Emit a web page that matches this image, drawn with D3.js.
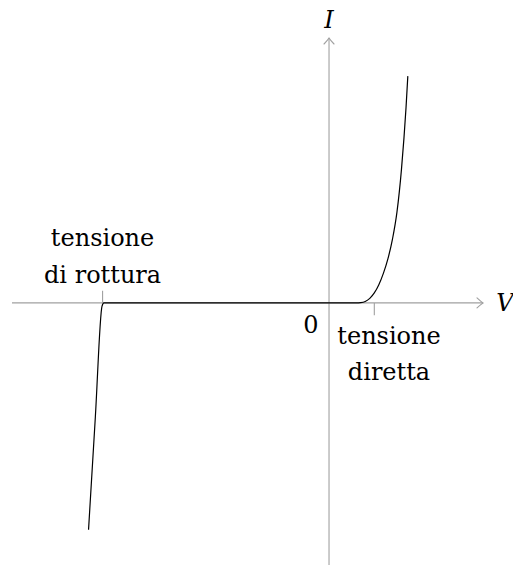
<!DOCTYPE html>
<html>
<head>
<meta charset="utf-8">
<script src="https://cdn.jsdelivr.net/npm/d3@7"></script>
<style>
  html, body { margin: 0; padding: 0; background: #fff; }
  svg { display: block; }
</style>
</head>
<body>
<svg id="chart" width="513" height="565"></svg>
<script>
// ---- data (units: V and I in arbitrary units) ----
const curveV = [-5.31, -5.16, -5.012, -4.97, -3, -1, 0, 0.6, 0.7, 0.8, 0.9, 1.0, 1.1, 1.2, 1.3, 1.4, 1.5, 1.6, 1.7, 1.74];
const curveI = [-5.0, -2.52, -0.07, 0, 0, 0, 0, 0, 0.005, 0.03, 0.1, 0.22, 0.4, 0.65, 0.97, 1.4, 2.0, 2.95, 4.3, 5.0];
const axisX = [-7, 3.4];
const axisY = [-5.8, 5.84];
const tickV = [-5, 1];
const axisLabels = ["V", "I"];
const originLabel = "0";
const breakdownLabel = ["tensione", "di rottura"];
const forwardLabel = ["tensione", "diretta"];

// ---- scales ----
const x = d3.scaleLinear().domain([-7, 3.4]).range([12, 483]);
const y = d3.scaleLinear().domain([-5.8, 5.84]).range([566, 38]);

const svg = d3.select("#chart");
const axisColor = "#a0a0a0";
const FONT = "'DejaVu Serif', 'Liberation Serif', serif";

// axes lines
svg.append("line")
  .attr("x1", x(axisX[0])).attr("x2", x(axisX[1]))
  .attr("y1", y(0)).attr("y2", y(0))
  .attr("stroke", axisColor).attr("stroke-width", 1.1);
svg.append("line")
  .attr("x1", x(0)).attr("x2", x(0))
  .attr("y1", y(axisY[0])).attr("y2", y(axisY[1]))
  .attr("stroke", axisColor).attr("stroke-width", 1.1);

// arrow heads (TikZ "->" style)
function arrowHead(tx, ty, dir) {
  let p;
  if (dir === "right") {
    p = `M${tx - 6},${ty - 5} Q${tx - 2},${ty - 1.2} ${tx},${ty} Q${tx - 2},${ty + 1.2} ${tx - 6},${ty + 5}`;
  } else {
    p = `M${tx - 5},${ty + 6} Q${tx - 1.2},${ty + 2} ${tx},${ty} Q${tx + 1.2},${ty + 2} ${tx + 5},${ty + 6}`;
  }
  svg.append("path").attr("d", p).attr("fill", "none")
    .attr("stroke", axisColor).attr("stroke-width", 1.1).attr("stroke-linecap", "round");
}
arrowHead(x(axisX[1]), y(0), "right");
arrowHead(x(0), y(axisY[1]), "up");

// ticks
svg.append("line")
  .attr("x1", x(tickV[0])).attr("x2", x(tickV[0]))
  .attr("y1", y(0)).attr("y2", y(0.27))
  .attr("stroke", axisColor).attr("stroke-width", 1.1);
svg.append("line")
  .attr("x1", x(tickV[1])).attr("x2", x(tickV[1]))
  .attr("y1", y(0)).attr("y2", y(-0.27))
  .attr("stroke", axisColor).attr("stroke-width", 1.1);

// curve
const pts = curveV.map((v, i) => [v, curveI[i]]);
const line = d3.line().x(d => x(d[0])).y(d => y(d[1])).curve(d3.curveMonotoneX);
svg.append("path").datum(pts)
  .attr("d", line)
  .attr("fill", "none").attr("stroke", "#000").attr("stroke-width", 1.2);

// labels
const fs = 24;
function label(t, xx, yy, italic) {
  svg.append("text").text(t)
    .attr("x", xx).attr("y", yy)
    .attr("text-anchor", "middle")
    .attr("font-family", FONT)
    .attr("font-size", fs)
    .attr("font-style", italic ? "italic" : "normal")
    .attr("fill", "#000");
}
label(axisLabels[0], 505, 311, true);
label(axisLabels[1], x(0), 28, true);
label(originLabel, 311, 333, false);
label(breakdownLabel[0], x(tickV[0]), 246, false);
label(breakdownLabel[1], x(tickV[0]), 283, false);
label(forwardLabel[0], 389, 344, false);
label(forwardLabel[1], 389, 380, false);
</script>
</body>
</html>
